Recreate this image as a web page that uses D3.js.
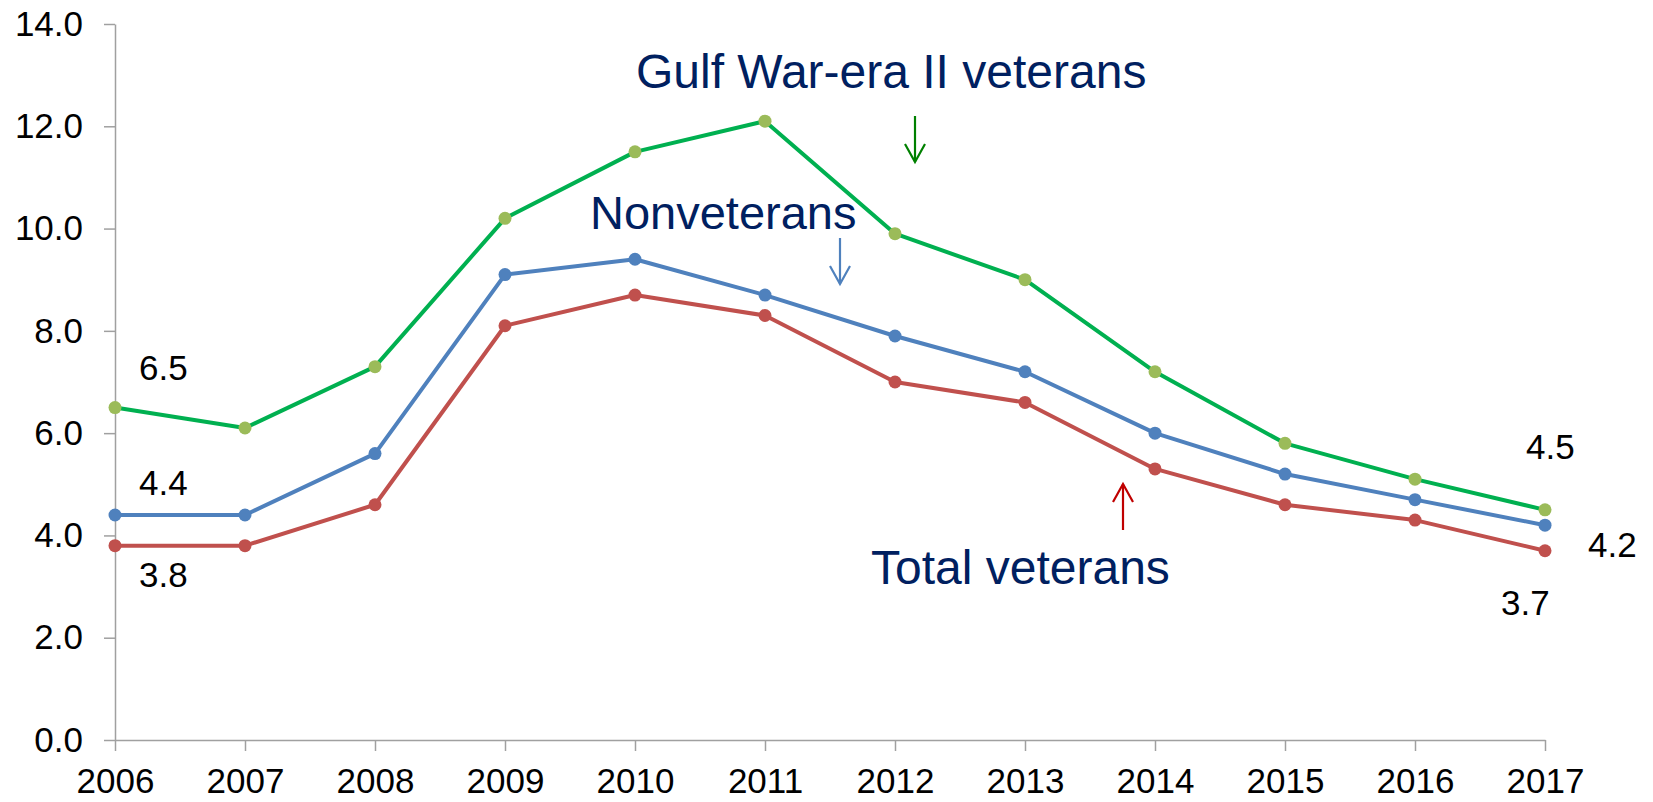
<!DOCTYPE html>
<html>
<head>
<meta charset="utf-8">
<script src="https://cdn.jsdelivr.net/npm/d3@7"></script>
<style>
  body { margin: 0; background: #fff; }
  svg text { font-family: Arial, "Liberation Sans", sans-serif; }
</style>
</head>
<body>
<svg id="chart" width="1653" height="802"></svg>
<script>
const years = [2006, 2007, 2008, 2009, 2010, 2011, 2012, 2013, 2014, 2015, 2016, 2017]
const gulfWarII = [6.5, 6.1, 7.3, 10.2, 11.5, 12.1, 9.9, 9.0, 7.2, 5.8, 5.1, 4.5]
const nonveterans = [4.4, 4.4, 5.6, 9.1, 9.4, 8.7, 7.9, 7.2, 6.0, 5.2, 4.7, 4.2]
const totalVeterans = [3.8, 3.8, 4.6, 8.1, 8.7, 8.3, 7.0, 6.6, 5.3, 4.6, 4.3, 3.7]
const yTicks = [0, 2, 4, 6, 8, 10, 12, 14]

const svg = d3.select("#chart")

const x = d3.scaleLinear().domain([2006, 2017]).range([115, 1545])
const y = d3.scaleLinear().domain([0, 14]).range([740, 24])

const series = [
    { name: "gulf", values: gulfWarII, line: "#00b050", dot: "#9bbb59" },
    { name: "non", values: nonveterans, line: "#4f81bd", dot: "#4f81bd" },
    { name: "total", values: totalVeterans, line: "#c0504d", dot: "#c0504d" },
]

// axes
svg.append("g")
    .attr("transform", "translate(" + x(2006) + ",0)")
    .call(d3.axisLeft(y).tickValues(yTicks).tickFormat(d3.format(".1f")).tickSize(11).tickSizeOuter(0).tickPadding(21))

svg.append("g")
    .attr("transform", "translate(0," + y(0) + ")")
    .call(d3.axisBottom(x).tickValues(years).tickFormat(d3.format("d")).tickSize(11).tickSizeOuter(0).tickPadding(17))

svg.selectAll(".domain, .tick line").attr("stroke", "#a0a0a0").attr("stroke-width", 1.5)
svg.selectAll(".tick text").attr("fill", "#000").style("font-size", "35px")

// lines + markers
const line = d3.line()
    .x((d, i) => x(years[i]))
    .y(d => y(d))

series.forEach(s => {
    svg.append("path")
        .datum(s.values)
        .attr("fill", "none")
        .attr("stroke", s.line)
        .attr("stroke-width", 4)
        .attr("stroke-linejoin", "round")
        .attr("d", line)

    svg.append("g").selectAll("circle")
        .data(s.values)
        .enter().append("circle")
        .attr("cx", (d, i) => x(years[i]))
        .attr("cy", d => y(d))
        .attr("r", 6.5)
        .attr("fill", s.dot)
})

// end value labels
const endLabels = [
    { s: 0, i: 0, dx: 24, dy: -28 },
    { s: 1, i: 0, dx: 24, dy: -20 },
    { s: 2, i: 0, dx: 24, dy: 41 },
    { s: 0, i: 11, dx: -19, dy: -51 },
    { s: 1, i: 11, dx: 43, dy: 32 },
    { s: 2, i: 11, dx: -44, dy: 64 },
]

svg.selectAll(".valueLabel")
    .data(endLabels)
    .enter().append("text")
    .attr("class", "valueLabel")
    .attr("x", d => x(years[d.i]) + d.dx)
    .attr("y", d => y(series[d.s].values[d.i]) + d.dy)
    .style("font-size", "35px")
    .attr("fill", "#000")
    .text(d => d3.format(".1f")(series[d.s].values[d.i]))

// series annotations
const annotations = [
    { text: "Gulf War-era II veterans", x: 636, y: 88, size: 48 },
    { text: "Nonveterans", x: 590, y: 229, size: 47 },
    { text: "Total veterans", x: 871, y: 584, size: 48 },
]

svg.selectAll(".annot")
    .data(annotations)
    .enter().append("text")
    .attr("class", "annot")
    .attr("x", d => d.x)
    .attr("y", d => d.y)
    .attr("fill", "#002060")
    .style("font-size", d => d.size + "px")
    .text(d => d.text)

// arrows
const arrows = [
    { x: 915, y1: 116, y2: 162, color: "#008000" },
    { x: 840, y1: 238, y2: 284, color: "#4f81bd" },
    { x: 1123, y1: 530, y2: 484, color: "#c00000" },
]

arrows.forEach(a => {
    const dir = a.y2 > a.y1 ? 1 : -1
    const g = svg.append("g").attr("stroke", a.color).attr("stroke-width", 2.2).attr("fill", "none")
    g.append("line").attr("x1", a.x).attr("x2", a.x).attr("y1", a.y1).attr("y2", a.y2)
    g.append("path")
        .attr("d", "M" + (a.x - 10) + "," + (a.y2 - dir * 18) + "L" + a.x + "," + a.y2 + "L" + (a.x + 10) + "," + (a.y2 - dir * 18))
})
</script>
</body>
</html>
